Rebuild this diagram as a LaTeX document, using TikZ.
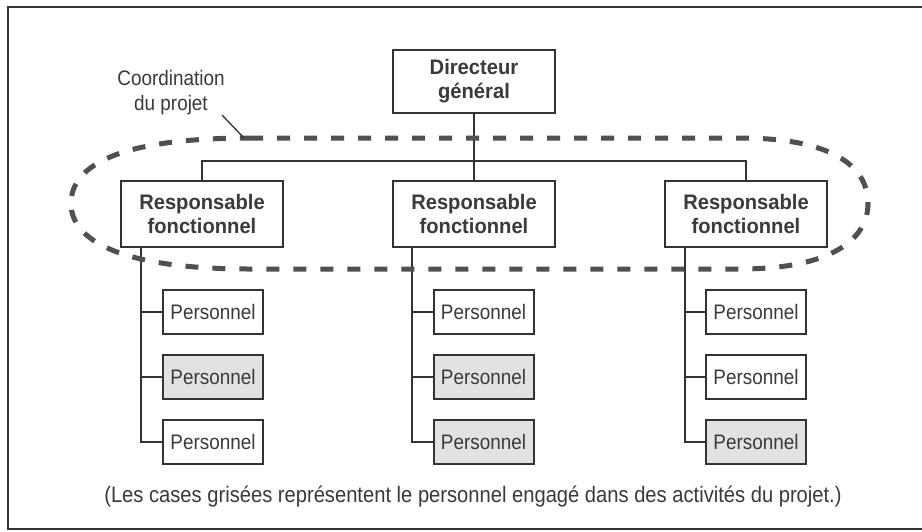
\documentclass[tikz,border=0pt]{standalone}
\usepackage{fontspec}
\setmainfont{Liberation Sans}[FakeStretch=0.9]
\newfontfamily\bfam{Liberation Sans}[FakeStretch=0.96]
\usetikzlibrary{calc}
\definecolor{ink}{HTML}{333333}
\definecolor{txt}{HTML}{3A3A3A}
\definecolor{dash}{HTML}{505050}
\definecolor{shade}{HTML}{E2E2E2}
\tikzset{
  boss/.style={draw=ink, line width=2pt, fill=white, text=txt, minimum width=162pt, minimum height=63pt, inner sep=0pt, align=center, font=\bfam\bfseries\fontsize{21}{24}\selectfont},
  resp/.style={boss, minimum height=66pt},
  pers/.style={draw=ink, line width=2pt, fill=white, text=txt, minimum width=100pt, minimum height=44pt, inner sep=0pt, font=\fontsize{21}{24}\selectfont},
  grey/.style={pers, fill=shade},
  conn/.style={draw=ink, line width=1.6pt},
  note/.style={text=txt, align=center, inner sep=0pt, font=\fontsize{21}{25}\selectfont},
  foottext/.style={note, font=\fontsize{22.4}{26}\selectfont},
  coord/.style={draw=dash, line width=5pt, dash pattern=on 13pt off 14pt}
}
\begin{document}
\begin{tikzpicture}[x=1pt,y=-1pt]
\useasboundingbox (0,0) rectangle (922,531);
\fill[white] (0,0) rectangle (922,531);
% frame
\draw[ink, line width=2pt] (930,7) -- (8,7) -- (8,529) -- (930,529);

% nodes
\node[boss] (dir) at (474,81.5) {Directeur\\général};
\node[resp] (r1) at (202,214) {Responsable\\fonctionnel};
\node[resp] (r2) at (474,214) {Responsable\\fonctionnel};
\node[resp] (r3) at (746,214) {Responsable\\fonctionnel};

\node[pers] (p11) at (213,312) {Personnel};
\node[grey] (p12) at (213,377) {Personnel};
\node[pers] (p13) at (213,442) {Personnel};

\node[pers] (p21) at (483.5,312) {Personnel};
\node[grey] (p22) at (483.5,377) {Personnel};
\node[grey] (p23) at (483.5,442) {Personnel};

\node[pers] (p31) at (756,312) {Personnel};
\node[pers] (p32) at (756,377) {Personnel};
\node[grey] (p33) at (756,442) {Personnel};

% connectors
\coordinate (bus) at (474,161);
\draw[conn] (dir.south) -- (r2.north);
\draw[conn] (r1.north) |- (bus) -| (r3.north);

\coordinate (t1) at ($(r1.south west)+(21,0)$);
\coordinate (t2) at ($(r2.south west)+(20,0)$);
\coordinate (t3) at ($(r3.south west)+(21,0)$);
\foreach \c in {1,2,3}{
  \draw[conn] (t\c) |- (p\c1.west);
  \draw[conn] (t\c) |- (p\c2.west);
  \draw[conn] (t\c) |- (p\c3.west);
}

% coordination outline
\draw[coord] (250,138) -- (740,138)
  .. controls (830,138) and (868,165) .. (868,203.5)
  .. controls (868,240) and (830,269) .. (740,269)
  -- (250,269)
  .. controls (120,269) and (71,240) .. (71,203.5)
  .. controls (71,165) and (120,138) .. (250,138) -- cycle;

% label
\node[note] (lab) at (171,93) {Coordination\\du projet};
\coordinate (labtip) at (244,138);
\draw[conn, line width=1.3pt] (222,115) -- (labtip);

% footnote
\node[foottext] (foot) at (473,497) {(Les cases grisées représentent le personnel engagé dans des activités du projet.)};
\end{tikzpicture}
\end{document}
